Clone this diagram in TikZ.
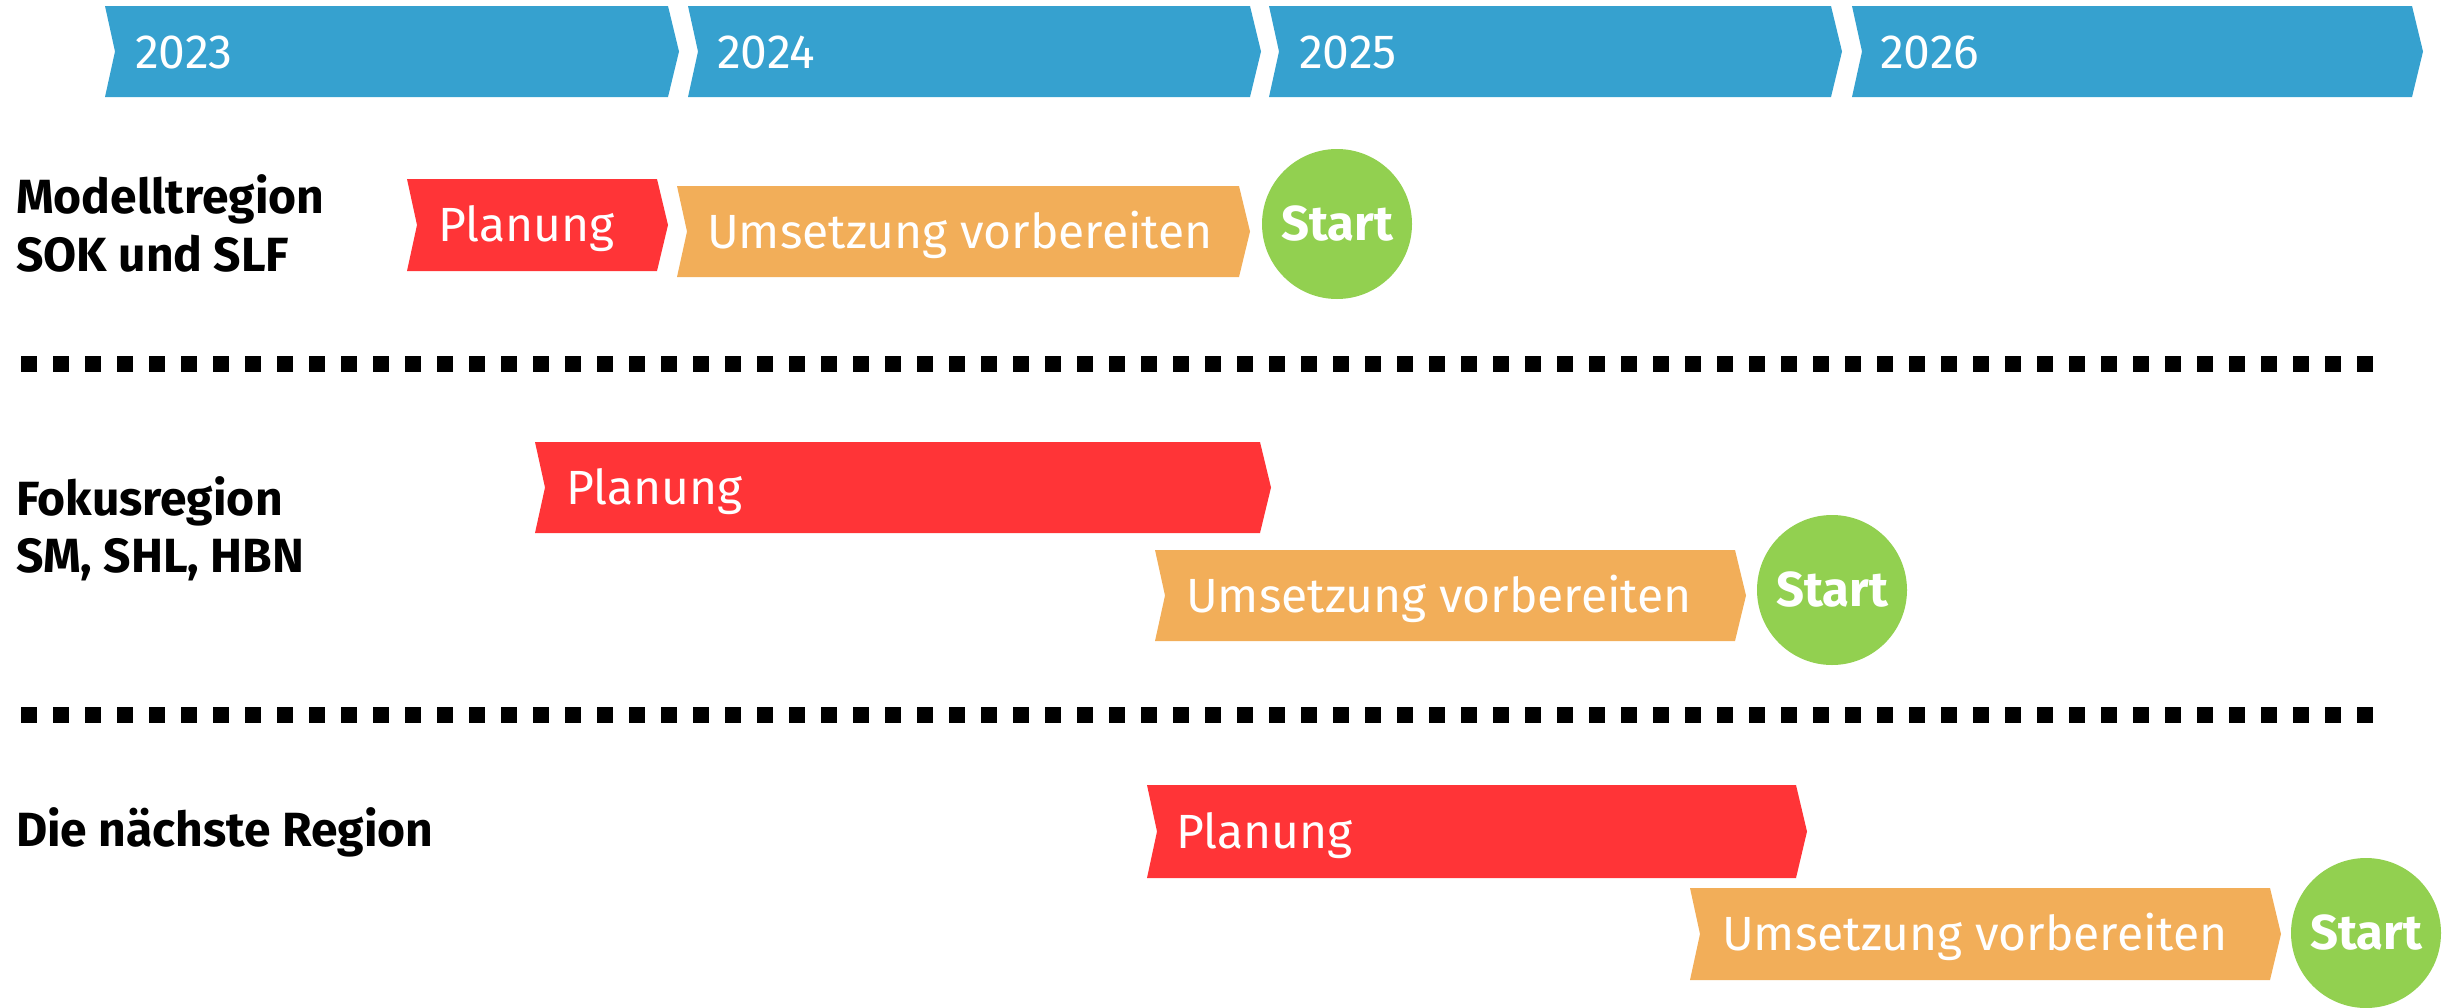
\documentclass[tikz,border=0pt]{standalone}
\usepackage{fontspec}
\setmainfont{Fira Sans}
\definecolor{yearblue}{HTML}{36A1CF}
\definecolor{planred}{HTML}{FF3437}
\definecolor{prepor}{HTML}{F2AE59}
\definecolor{startgreen}{HTML}{92D050}
\newcommand\chevron[6]{%
  \fill[#1] (#2,#4) -- ({#3-11},#4) -- (#3,{(#4+#5)/2}) -- ({#3-11},#5)
    -- (#2,#5) -- ({#2+10},{(#4+#5)/2}) -- cycle;}
\tikzset{
  bartext/.style={anchor=base west, inner sep=0pt, text=white,
    font=\fontsize{48}{56}\selectfont},
  rowlabel/.style={anchor=base west, inner sep=0pt, text=black,
    font=\fontsize{48}{56}\selectfont\bfseries},
  startcircle/.style={circle, fill=startgreen, minimum size=150pt, inner sep=0pt,
    text=white, font=\fontsize{49}{55}\selectfont\bfseries},
  sepline/.style={line width=16pt, dash pattern=on 16pt off 16pt}
}
\begin{document}
\begin{tikzpicture}[x=1pt,y=-1pt]
\useasboundingbox (0,0) rectangle (2453,1007);
% year bars
\chevron{yearblue}{105}{679}{6}{97}{}
\chevron{yearblue}{688}{1261}{6}{97}{}
\chevron{yearblue}{1269}{1842}{6}{97}{}
\chevron{yearblue}{1852}{2423}{6}{97}{}
\node[bartext] (y23) at (135,68) {2023};
\node[bartext] (y24) at (717,68) {2024};
\node[bartext] (y25) at (1299,68) {2025};
\node[bartext] (y26) at (1880,68) {2026};
% row 1
\node[rowlabel] (l1a) at (16,213) {Modelltregion};
\node[rowlabel] (l1b) at (16,271) {SOK und SLF};
\chevron{planred}{407}{668}{179}{271}{}
\chevron{prepor}{677}{1250}{186}{277}{}
\node[bartext] (p1) at (438,241) {Planung};
\node[bartext] (u1) at (707,248) {Umsetzung vorbereiten};
\node[startcircle] (s1) at (1337,224) {Start};
% separator 1
\coordinate (d1a) at (21,364);
\coordinate (d1b) at (2373,364);
\draw[sepline] (d1a) -- (d1b);
% row 2
\node[rowlabel] (l2a) at (16,515) {Fokusregion};
\node[rowlabel] (l2b) at (16,572) {SM, SHL, HBN};
\chevron{planred}{535}{1271}{442}{533}{}
\chevron{prepor}{1155}{1746}{550}{641}{}
\node[bartext] (p2) at (566,504) {Planung};
\node[bartext] (u2) at (1186,612) {Umsetzung vorbereiten};
\node[startcircle] (s2) at (1832,590) {Start};
% separator 2
\coordinate (d2a) at (21,715);
\coordinate (d2b) at (2373,715);
\draw[sepline] (d2a) -- (d2b);
% row 3
\node[rowlabel] (l3) at (16,846) {Die nächste Region};
\chevron{planred}{1147}{1807}{785}{878}{}
\chevron{prepor}{1690}{2281}{888}{980}{}
\node[bartext] (p3) at (1176,848) {Planung};
\node[bartext] (u3) at (1722,950) {Umsetzung vorbereiten};
\node[startcircle] (s3) at (2366,933) {Start};
\end{tikzpicture}
\end{document}
